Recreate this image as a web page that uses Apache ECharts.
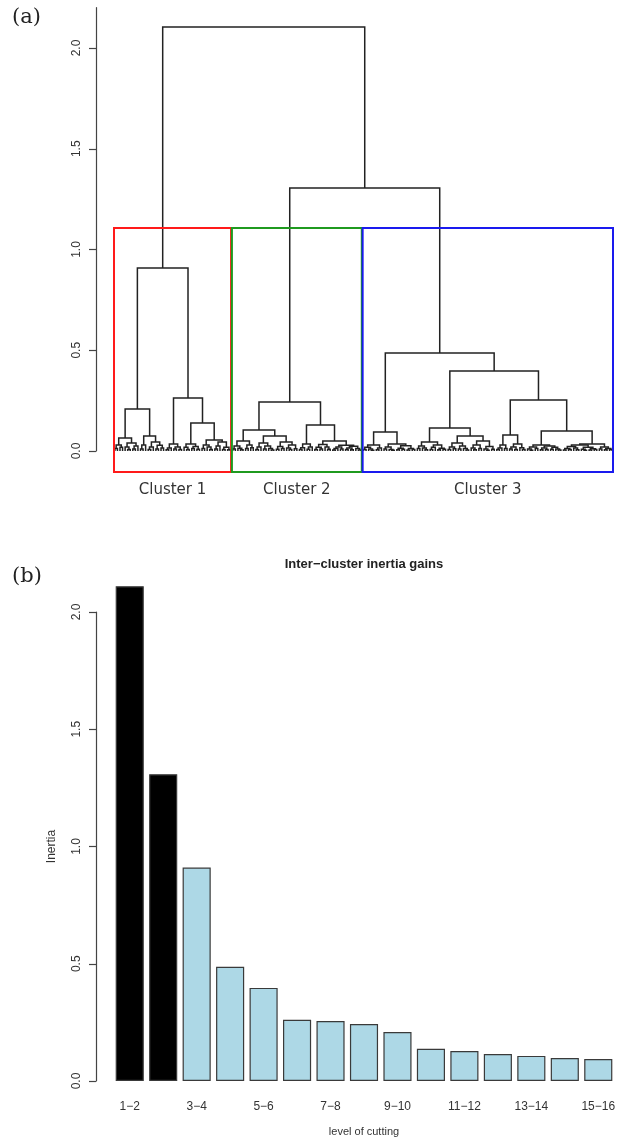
<!DOCTYPE html>
<html><head><meta charset="utf-8">
<script src="https://cdn.jsdelivr.net/npm/echarts@6/dist/echarts.min.js"></script>
<style>html,body{margin:0;padding:0;background:#fff}#c{width:623px;height:1138px}</style>
</head><body><div id="c"></div>
<script>
// ---------- Panel (a): hierarchical tree. node = [merge height, left, right]; leaf = 0 ----------
const c1Left = [0.208,
  [0.065, [0.03,[0.012,0,0],[0.018,0,0]], [0.04,[0.02,0,[0.008,0,0]],[0.025,[0.01,0,0],0]]],
  [0.075, [0.03,[0.01,0,0],0], [0.045,[0.02,[0.008,0,0],0],[0.028,[0.01,0,0],[0.015,0,0]]]]
];
const c1Right = [0.263,
  [0.035, [0.015,[0.006,0,0],0], [0.02,[0.01,0,0],[0.008,0,0]]],
  [0.139,
    [0.035, [0.018,0,[0.007,0,0]], [0.022,[0.012,0,0],[0.009,0,0]]],
    [0.055, [0.03,[0.012,0,0],[0.02,0,[0.008,0,0]]], [0.045,[0.025,[0.01,0,0],0],[0.018,[0.008,0,0],[0.006,0,0]]]]
  ]
];
const cluster1 = [0.908, c1Left, c1Right];

const c2Left = [0.104,
  [0.05, [0.025,[0.01,0,0],[0.014,0,[0.006,0,0]]], [0.03,[0.012,0,0],[0.016,0,0]]],
  [0.075, [0.04,[0.02,[0.008,0,0],0],[0.025,[0.01,0,0],[0.012,0,[0.005,0,0]]]], [0.045,[0.022,[0.009,0,0],[0.013,0,0]],[0.03,[0.015,0,[0.007,0,0]],[0.011,0,0]]]]
];
const c2Right = [0.129,
  [0.035, [0.016,[0.007,0,0],0], [0.02,[0.009,0,0],0]],
  [0.05, [0.032,[0.018,[0.008,0,0],[0.01,0,0]],[0.02,0,[0.009,0,0]]], [0.028,[0.02,[0.012,[0.005,0,0],0],[0.01,0,0]],[0.024,[0.015,[0.007,0,0],[0.006,0,0]],[0.012,0,[0.005,0,0]]]]]
];
const cluster2 = [0.243, c2Left, c2Right];

const c3Left = [0.094,
  [0.03, [0.018,[0.008,0,0],[0.01,0,[0.004,0,0]]], [0.015,[0.006,0,0],0]],
  [0.035, [0.02,[0.01,0,0],[0.008,0,[0.004,0,0]]], [0.026,[0.014,[0.006,0,0],[0.009,0,0]],[0.012,[0.005,0,0],[0.007,0,0]]]]
];
const c3MidLeft = [0.114,
  [0.045, [0.025,[0.012,0,0],[0.015,0,[0.006,0,0]]], [0.03,[0.018,[0.008,0,0],0],[0.014,[0.006,0,0],[0.009,0,0]]]],
  [0.075, [0.04,[0.02,[0.008,0,0],[0.011,0,0]],[0.025,[0.01,0,0],[0.013,0,[0.005,0,0]]]], [0.05,[0.03,[0.015,0,[0.006,0,0]],[0.012,0,0]],[0.022,[0.01,0,[0.004,0,0]],[0.009,0,0]]]]
];
const c3MidRight = [0.253,
  [0.079, [0.03,[0.015,[0.007,0,0],0],[0.012,0,0]], [0.035,[0.02,[0.01,0,0],[0.008,0,0]],[0.016,0,[0.007,0,0]]]],
  [0.099,
    [0.03, [0.02,[0.01,0,[0.004,0,0]],[0.012,0,0]], [0.025,[0.015,[0.006,0,0],[0.008,0,0]],[0.018,[0.009,0,0],[0.01,0,[0.005,0,0]]]]],
    [0.035,
      [0.03, [0.022,[0.012,[0.005,0,0],[0.007,0,0]],[0.015,0,[0.006,0,0]]], [0.018,[0.009,0,[0.004,0,0]],[0.011,[0.005,0,0],[0.007,0,0]]]],
      [0.02,[0.01,0,0],[0.013,[0.006,0,0],[0.008,0,0]]]
    ]
  ]
];
const cluster3 = [0.486, c3Left, [0.397, c3MidLeft, c3MidRight]];

const clusters = [cluster1, cluster2, cluster3];
const clusterLabels = ['Cluster 1', 'Cluster 2', 'Cluster 3'];
const rootMerges = [2.104, 1.305];           // root, then cluster2+cluster3
const heightTicks = [0, 0.5, 1, 1.5, 2];

// ---------- Panel (b): inertia gains ----------
const cutLevels = ['1−2','2−3','3−4','4−5','5−6','6−7','7−8','8−9','9−10','10−11','11−12','12−13','13−14','14−15','15−16'];
const inertiaGains = [2.11, 1.308, 0.91, 0.487, 0.397, 0.261, 0.256, 0.243, 0.209, 0.137, 0.128, 0.115, 0.107, 0.098, 0.094];

// ---------- layout of tree (leaf order + midpoints) ----------
const tree = [rootMerges[0], cluster1, [rootMerges[1], cluster2, cluster3]];
let leafCount = 0;
const segs = [];
const allHeights = [];
function layout(node) {
  if (node === 0) { leafCount++; return { x: leafCount, y: 0 }; }
  const a = layout(node[1]), b = layout(node[2]);
  segs.push([a.x, a.y, b.x, b.y, node[0]]);
  allHeights.push(node[0]);
  return { x: (a.x + b.x) / 2, y: node[0] };
}
function countLeaves(node) { return node === 0 ? 1 : countLeaves(node[1]) + countLeaves(node[2]); }
layout(tree);
const n = leafCount;
allHeights.sort((p, q) => q - p);
const k = clusters.length;
const boxTop = (allHeights[k - 2] + allHeights[k - 1]) / 2;
const boxes = [];
let start = 0;
clusters.forEach((c, i) => {
  const cnt = countLeaves(c);
  boxes.push([start + 0.66, start + cnt + 0.33, boxTop, i]);
  start += cnt;
});
const boxColors = ['#ff1a1a', '#1f9a1f', '#1a1aee'];

// grid for panel (a): leaf 0.66 -> x=114, leaf n+0.33 -> x=613
const pxPerLeaf = (613 - 114) / (n - 0.33);
const gridALeft = 114 - 0.66 * pxPerLeaf;
const gridAWidth = (n + 1) * pxPerLeaf;

const font = 'Liberation Sans, Arial, sans-serif';
const chart = echarts.init(document.getElementById('c'), null, { renderer: 'canvas' });
chart.setOption({
  animation: false,
  backgroundColor: '#fff',
  grid: [
    { left: gridALeft, top: 7.7, width: gridAWidth, height: 443.3 },
    { left: 113, top: 612, width: 502, height: 470 }
  ],
  xAxis: [
    { gridIndex: 0, type: 'value', min: 0, max: n + 1, show: false },
    { gridIndex: 1, type: 'category', data: cutLevels,
      axisLine: { show: false }, axisTick: { show: false },
      axisLabel: { interval: 1, fontSize: 12, color: '#333', fontFamily: font, margin: 20 },
      name: 'level of cutting', nameLocation: 'middle', nameGap: 45,
      nameTextStyle: { fontSize: 11, color: '#333', fontFamily: font } }
  ],
  yAxis: [
    { gridIndex: 0, type: 'value', min: 0, max: 2.2, offset: gridALeft - 96,
      splitLine: { show: false },
      axisLine: { show: true, onZero: false, lineStyle: { color: '#444', width: 1.2 } },
      axisTick: { show: true, length: 7, customValues: heightTicks, lineStyle: { color: '#444', width: 1.2 } },
      axisLabel: { rotate: 90, margin: 13, fontSize: 12, color: '#333', fontFamily: font,
        customValues: heightTicks, formatter: v => v.toFixed(1) } },
    { gridIndex: 1, type: 'value', min: 0, max: 2, interval: 0.5, offset: 17,
      splitLine: { show: false },
      axisLine: { show: true, onZero: false, lineStyle: { color: '#444', width: 1.2 } },
      axisTick: { show: true, length: 7, lineStyle: { color: '#444', width: 1.2 } },
      axisLabel: { rotate: 90, margin: 13, fontSize: 12, color: '#333', fontFamily: font,
        formatter: v => v.toFixed(1) },
      name: 'Inertia', nameLocation: 'middle', nameGap: 38, nameRotate: 90,
      nameTextStyle: { fontSize: 12, color: '#333', fontFamily: font } }
  ],
  graphic: [
    { type: 'text', left: 12, top: 7, style: { text: '(a)', fontSize: 21, fontFamily: 'DejaVu Serif, serif', fill: '#222' } },
    { type: 'text', left: 12, top: 566, style: { text: '(b)', fontSize: 21, fontFamily: 'DejaVu Serif, serif', fill: '#222' } },
    { type: 'text', x: 364, y: 558, style: { text: 'Inter−cluster inertia gains', fontSize: 13, fontWeight: 'bold',
      fontFamily: font, fill: '#222', align: 'center', verticalAlign: 'top' } }
  ],
  series: [
    { type: 'custom', xAxisIndex: 0, yAxisIndex: 0, data: segs, clip: false,
      encode: { x: [0, 2], y: [1, 3, 4] },
      renderItem: (params, api) => {
        const p1 = api.coord([api.value(0), api.value(1)]);
        const p1t = api.coord([api.value(0), api.value(4)]);
        const p2t = api.coord([api.value(2), api.value(4)]);
        const p2 = api.coord([api.value(2), api.value(3)]);
        return { type: 'polyline', shape: { points: [p1, p1t, p2t, p2] },
          style: { stroke: '#222', lineWidth: 1.5, fill: null } };
      } },
    { type: 'custom', xAxisIndex: 0, yAxisIndex: 0, data: boxes, clip: false,
      encode: { x: [0, 1], y: 2 },
      renderItem: (params, api) => {
        const i = api.value(3);
        const tl = api.coord([api.value(0), api.value(2)]);
        const br = api.coord([api.value(1), -0.104]);
        const lab = api.coord([(api.value(0) + api.value(1)) / 2, -0.196]);
        return { type: 'group', children: [
          { type: 'rect', shape: { x: tl[0], y: tl[1], width: br[0] - tl[0], height: br[1] - tl[1] },
            style: { stroke: boxColors[i], lineWidth: 2, fill: null } },
          { type: 'text', x: lab[0], y: lab[1], style: { text: clusterLabels[i], fontSize: 15,
            fontFamily: 'DejaVu Sans, sans-serif', fill: '#333', align: 'center', verticalAlign: 'middle' } }
        ] };
      } },
    { type: 'bar', xAxisIndex: 1, yAxisIndex: 1, data: inertiaGains, clip: false,
      barCategoryGap: '16%',
      itemStyle: { color: p => p.dataIndex < k - 1 ? '#000000' : '#add8e6', borderColor: '#3a3a3a', borderWidth: 1.2 } }
  ]
});
</script></body></html>
